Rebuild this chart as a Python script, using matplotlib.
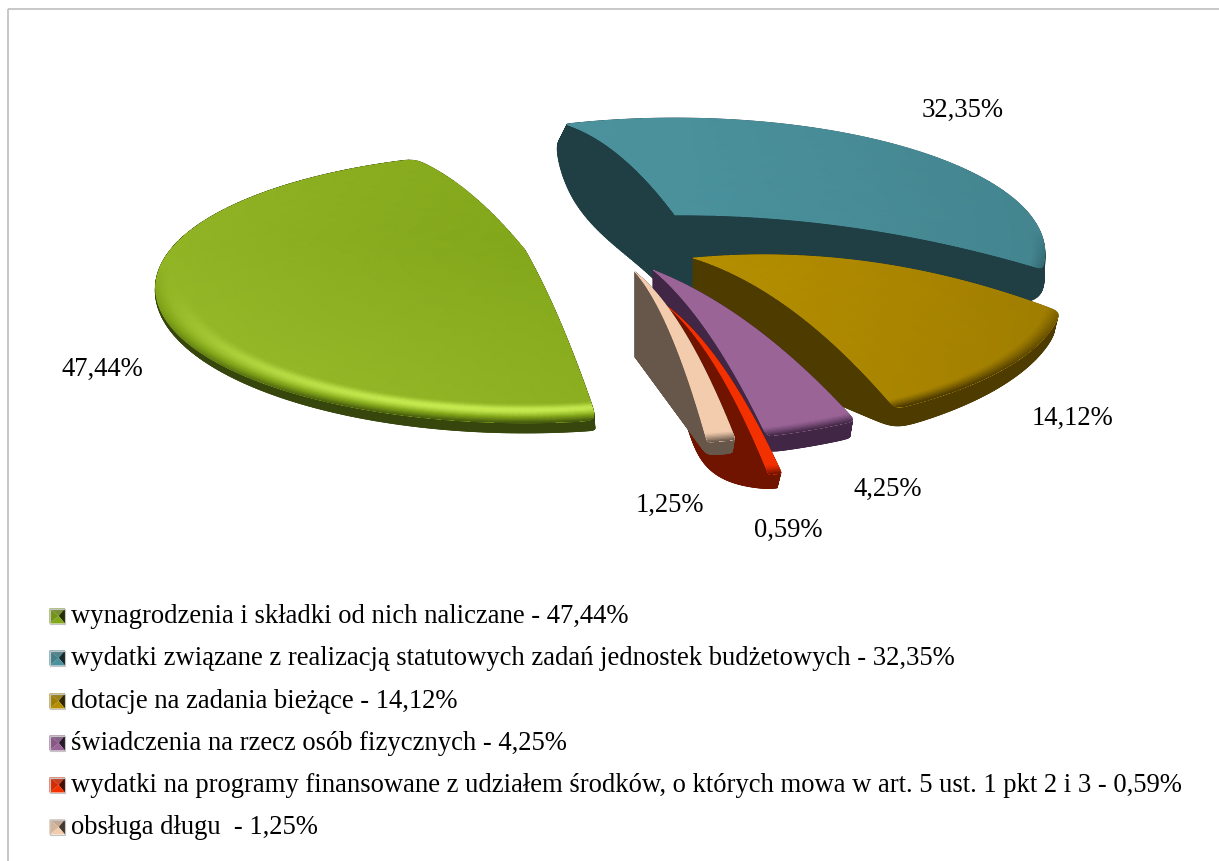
import numpy as np
import matplotlib
matplotlib.use("Agg")
import matplotlib.pyplot as plt
from matplotlib.patches import Polygon, Rectangle
from matplotlib.collections import PolyCollection
from matplotlib.colors import LinearSegmentedColormap

# ---- data ----
categories = ["wynagrodzenia i składki od nich naliczane",
              "wydatki związane z realizacją statutowych zadań jednostek budżetowych",
              "dotacje na zadania bieżące",
              "świadczenia na rzecz osób fizycznych",
              "wydatki na programy finansowane z udziałem środków, o których mowa w art. 5 ust. 1 pkt 2 i 3",
              "obsługa długu "]
values = [47.44, 32.35, 14.12, 4.25, 0.59, 1.25]
value_labels = ["47,44%", "32,35%", "14,12%", "4,25%", "0,59%", "1,25%"]

# ---- layout and style ----
W, H_ = 1219, 861
plt.rcParams['font.family'] = ['Liberation Serif', 'DejaVu Serif']
FS_LABEL = 19.2
FS_LEGEND = 19.2
apex = [(525, 250), (675, 215), (693, 258), (653, 270), (668, 307), (635, 272)]
label_pos = [(61, 369), (922, 110), (1032, 418), (854, 489), (754, 530), (636, 505)]
legend_y = [616, 658, 701, 743, 785, 827]
col_base = ['#84A81B', '#4A919C', '#B58F00', '#9A6497', '#F23000', '#F3CCAE']
col_dark = ['#36460C', '#1F3F45', '#4E3B00', '#412745', '#701400', '#66574A']
col_light = ['#C4E84E', '#5FA8B3', '#C9A010', '#B07AAC', '#FF5A20', '#FFE0C8']
depth_in = [85, 88, 85, 85, 85, 85]      # wall height at the centre
rim_back = [0, 12, 4, 16, 14, 13]        # wall height at the rim, far side
rim_front = [10, 65, 22, 16, 14, 13]     # wall height at the rim, near side
left_scale = [1.0, 1.1, 1.0, 1.0, 1.0, 1.0]
wall_bulge = [(0, 0), (-14, 18), (0, 0), (0, 0), (-26, 12), (0, 0)]
corner_top = [7, 3, 5, 4, 1.5, 2]        # corner rounding of the face
corner_bot = [5, 8, 12, 8, 5, 6]         # corner rounding of the wall foot
grad = [(-0.2, 0.15), (-0.15, 0.0), (-0.22, 0.0), (0, 0), (0, 0), (0, 0)]
highlight = [0.9, 0.0, 0.0, 0.0, 0.0, 0.0]
dome = [11, 14, 22, 18, 20, 22]          # upward bend of the cut edges
RX, RY, CY, PHI0 = 370, 135, 38, np.radians(-17.3)   # rim ellipse relative to the apex
WARP = np.radians(1.6)

# ---- slice angles come from the values ----
pct = np.array(values) / sum(values)
order = [1, 2, 3, 4, 5, 0]
bounds = {}
t = 0.0
for i in order:
    bounds[i] = (t, t + 2 * np.pi * pct[i])
    t += 2 * np.pi * pct[i]


def to_phi(theta):
    return PHI0 + theta - WARP * (1 - np.cos(theta))


def project(r, theta):
    phi = to_phi(theta)
    return r * RX * np.sin(phi), r * (CY - RY * np.cos(phi))


def smooth(arr, sigma, r):
    """Round the corners at the rim by a circular gaussian, leaving the centre sharp."""
    n = int(4 * sigma) + 1
    k = np.exp(-0.5 * (np.arange(-n, n + 1) / sigma) ** 2)
    k /= k.sum()
    wrapped = np.concatenate([arr[-n:], arr, arr[:n]])
    s = np.convolve(wrapped, k, mode='same')[n:-n]
    blend = np.clip((r - 0.72) / 0.2, 0, 1)
    return arr * (1 - blend) + s * blend


def outline(i):
    t0, t1 = bounds[i]
    n = max(60, int(np.degrees(t1 - t0) * 3))
    rs = np.linspace(0, 1, 80)
    r = np.concatenate([rs, np.ones(n), rs[::-1]])
    th = np.concatenate([np.full(80, t0), np.linspace(t0, t1, n), np.full(80, t1)])
    x, y = project(r, th)
    # even sampling by arc length
    s = np.concatenate([[0], np.cumsum(np.hypot(np.diff(x), np.diff(y)))])
    N = 1400
    q = np.linspace(0, s[-1], N, endpoint=False)
    return np.interp(q, s, r), np.interp(q, s, x), np.interp(q, s, y), np.interp(q, s, th), s[-1] / N


fig = plt.figure(figsize=(W / 100, H_ / 100), dpi=100)
ax = fig.add_axes([0, 0, 1, 1])
ax.set_xlim(0, W)
ax.set_ylim(H_, 0)
ax.axis('off')

ax.add_patch(Rectangle((7.5, 8.5), W, H_, fc='none', ec='#BFBFBF', lw=1.2, zorder=0))

for z, i in enumerate([0, 1, 2, 3, 4, 5]):
    ax_x, ax_y = apex[i]
    r, x, y, th, step = outline(i)
    tx = ax_x + x
    ty = ax_y + y - dome[i] * 4 * r * (1 - r)
    bump = 6.75 * r ** 2 * (1 - r)
    frn = np.clip((-np.cos(to_phi(th)) + .3) / 1.3, 0, 1)
    rim_d = rim_back[i] + (rim_front[i] - rim_back[i]) * frn
    bx = ax_x + np.where(x < 0, left_scale[i], 1.0) * x + wall_bulge[i][0] * bump
    by = ax_y + y + depth_in[i] * (1 - r) + rim_d * r + wall_bulge[i][1] * bump
    tx2 = smooth(tx, corner_top[i] / step, r)
    ty2 = smooth(ty, corner_top[i] / step, r)
    bx2 = smooth(bx, corner_bot[i] / step, r)
    by2 = smooth(by, corner_bot[i] / step, r)
    zz = 2 + z * 2
    ax.add_patch(Polygon(np.c_[bx2, by2], fc=col_dark[i], ec=col_dark[i], lw=0.5, zorder=zz))
    quads = np.stack([np.c_[tx2, ty2], np.roll(np.c_[tx2, ty2], -1, axis=0),
                      np.roll(np.c_[bx2, by2], -1, axis=0), np.c_[bx2, by2]], axis=1)[::2]
    ax.add_collection(PolyCollection(quads, facecolors=col_dark[i], edgecolors=col_dark[i], linewidths=0.6, zorder=zz))
    face = Polygon(np.c_[tx2, ty2], fc=col_base[i], ec=col_base[i], lw=0.4, zorder=zz + 0.5)
    ax.add_patch(face)
    # shaded face
    t0, t1 = bounds[i]
    n = max(16, int(np.degrees(t1 - t0)))
    R, TH = np.meshgrid(np.concatenate([np.linspace(0, .90, 10), np.linspace(.905, 1, 20)]),
                        np.linspace(t0, t1, n))
    X, Y = project(R, TH)
    Yf = ax_y + Y - dome[i] * 4 * R * (1 - R)
    Xf = ax_x + X
    fr = -np.cos(to_phi(TH))         # +1 at the front of the disc
    tb = np.clip((R - .905) / .095, 0, 1)
    front = np.clip(fr, 0, 1)
    band = np.sin(np.pi * np.clip(tb / .75, 0, 1)) ** 2 * (tb < .75)
    dark = np.clip((tb - .62) / .38, 0, 1) ** 1.2
    bevel = highlight[i] * front ** 1.5 * band - np.clip(fr + .15, 0, 1) ** .8 * dark
    S = grad[i][0] * (X / 370) * R ** .3 + grad[i][1] * (Y / 165) * (Y > 0) + bevel
    cm = LinearSegmentedColormap.from_list('s%d' % i, [col_dark[i], col_base[i], col_light[i]])
    mesh = ax.pcolormesh(Xf, Yf, S, cmap=cm, vmin=-1, vmax=1, shading='gouraud', zorder=zz + 0.6)
    mesh.set_clip_path(face)

# labels
for s, (lx, ly) in zip(value_labels, label_pos):
    ax.text(lx, ly, s, fontsize=FS_LABEL, ha='left', va='center', color='#000000', zorder=30)

# legend
for i, (cat, s, ly) in enumerate(zip(categories, value_labels, legend_y)):
    x0, x1, y0, y1 = 49.5, 65, ly - 7.5, ly + 7.5
    xm, ym = 0.5 * (x0 + x1) + 1.5, ly
    ax.add_patch(Polygon([(x0, y0), (x1, y0), (xm, ym)], fc=col_base[i], alpha=.8, ec='none', zorder=31))
    ax.add_patch(Polygon([(x0, y0), (x1, y0), (xm, ym)], fc=col_dark[i], alpha=.35, ec='none', zorder=31))
    ax.add_patch(Polygon([(x1, y0), (x1, y1), (xm, ym)], fc=col_dark[i], ec='none', zorder=31))
    ax.add_patch(Polygon([(x1, y0), (x1, y1), (xm, ym)], fc='#000000', alpha=.35, ec='none', zorder=31))
    ax.add_patch(Polygon([(x0, y1), (x1, y1), (xm, ym)], fc=col_base[i], ec='none', zorder=31))
    ax.add_patch(Polygon([(x0, y0), (x0, y1), (xm, ym)], fc=col_base[i], ec='none', zorder=31))
    ax.add_patch(Polygon([(x0, y0), (x0, y1), (xm, ym)], fc=col_dark[i], alpha=.2, ec='none', zorder=31))
    ax.add_patch(Rectangle((x0, y0), x1 - x0, y1 - y0, fc='none', ec='#C4C4C4', lw=0.8, zorder=32))
    ax.text(71, ly + 0.5, f"{cat} - {s}", fontsize=FS_LEGEND, ha='left', va='center', color='#000000', zorder=30)

fig.savefig('out.png', dpi=100)
